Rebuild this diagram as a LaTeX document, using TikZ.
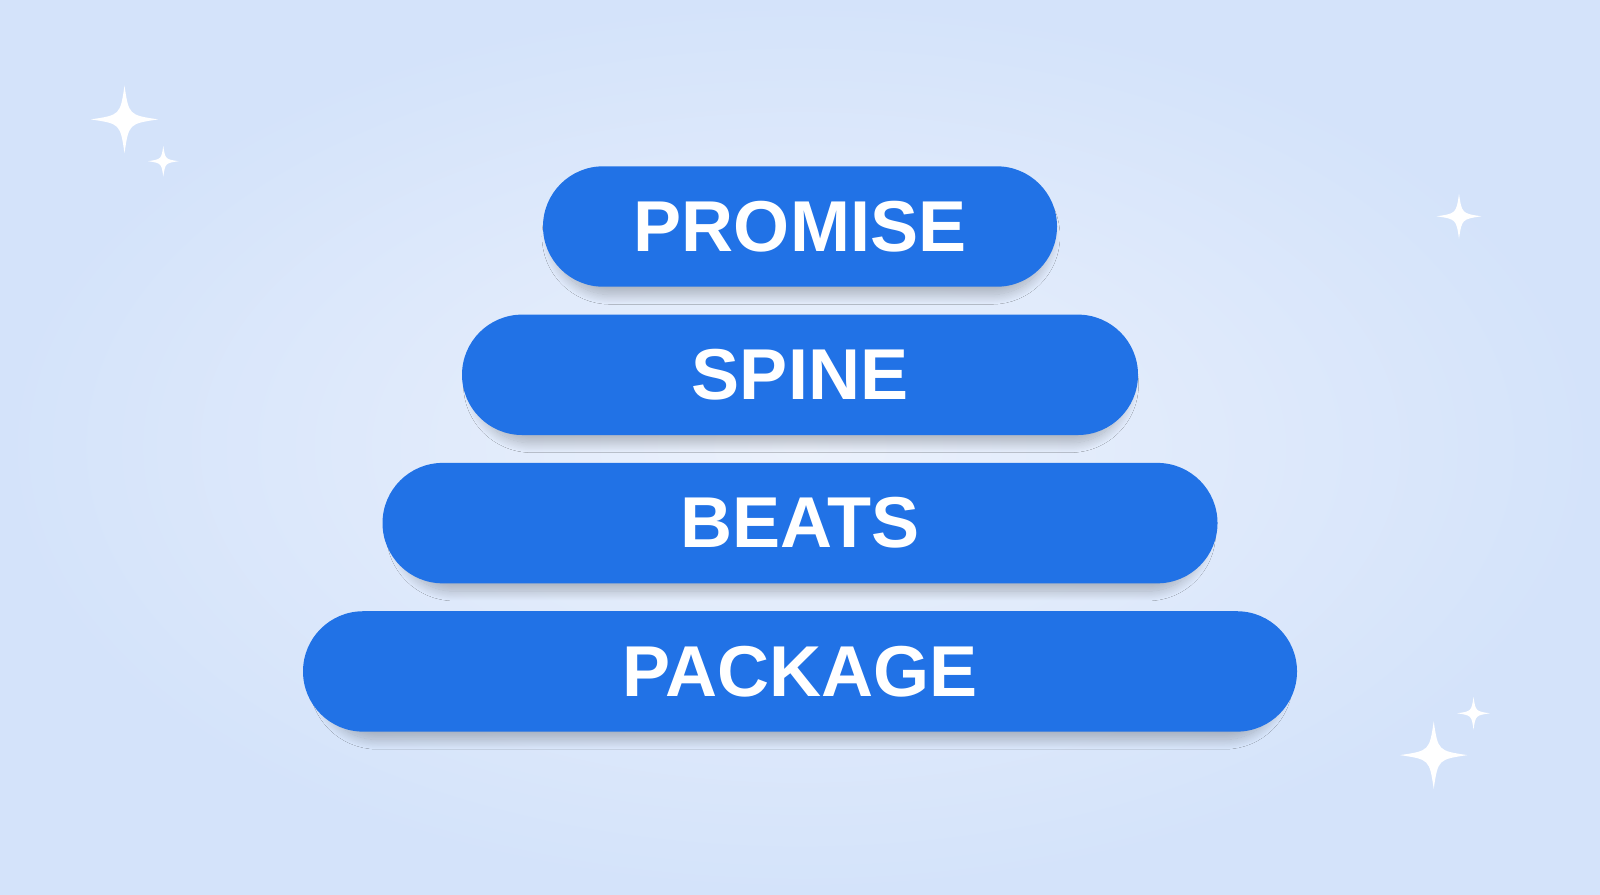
\documentclass[tikz,border=0pt]{standalone}
\usepackage{fontspec}
\setmainfont{Liberation Sans}
\usepackage{xcolor}
\usetikzlibrary{positioning,shapes.misc,shadows.blur}

\definecolor{bgIn}{RGB}{235,241,252}
\definecolor{bgOut}{RGB}{212,227,250}
\definecolor{pillBlue}{RGB}{33,114,230}

\tikzset{
  pill/.style={rounded rectangle,fill=pillBlue,draw=none,minimum height=1.204cm,inner sep=0pt,
    text=white,font=\fontsize{20.5}{24}\selectfont\bfseries,
    blur shadow={shadow xshift=0.01cm,shadow yshift=-0.1cm,shadow blur radius=0.1cm,
      shadow opacity=25,shadow blur steps=24,shadow scale=0.97}},
  sparkle/.pic={\fill[white] (0,1) .. controls (0.13,0.13) .. (1,0) .. controls (0.13,-0.13) .. (0,-1)
      .. controls (-0.13,-0.13) .. (-1,0) .. controls (-0.13,0.13) .. cycle;}
}

\begin{document}
\begin{tikzpicture}
  % background
  \shade[inner color=bgIn,outer color=bgOut] (0,0) rectangle (16,8.94);
  \useasboundingbox (0,0) rectangle (16,8.94);

  % pills
  \node[pill,minimum width=5.14cm] (promise) at (8,6.675) {PROMISE};
  \node[pill,minimum width=6.76cm,below=0.265cm of promise] (spine) {SPINE};
  \node[pill,minimum width=8.35cm,below=0.265cm of spine] (beats) {BEATS};
  \node[pill,minimum width=9.94cm,below=0.265cm of beats] (package) {PACKAGE};

  % sparkles
  \pic[scale=0.337] at (1.245,7.746) {sparkle};
  \pic[scale=0.153] at (1.633,7.328) {sparkle};
  \pic[scale=0.224] at (14.59,6.777) {sparkle};
  \pic[scale=0.337] at (14.337,1.389) {sparkle};
  \pic[scale=0.163] at (14.735,1.807) {sparkle};
\end{tikzpicture}
\end{document}
